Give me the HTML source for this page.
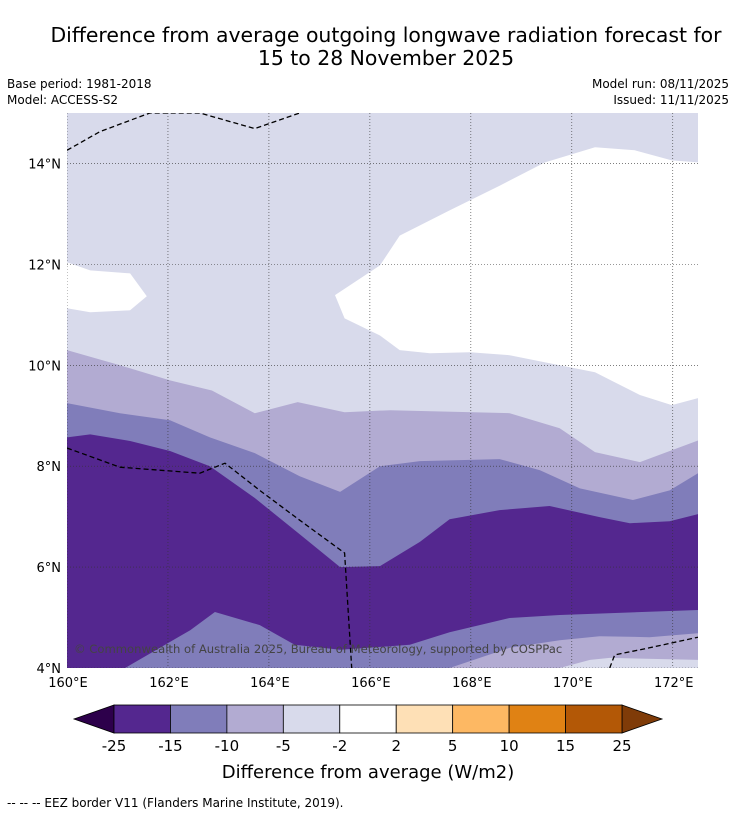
<!DOCTYPE html>
<html><head><meta charset="utf-8">
<style>
body{margin:0;background:#fff;font-family:"Liberation Sans","DejaVu Sans",sans-serif;}
svg text{font-family:"DejaVu Sans","Liberation Sans",sans-serif;}
</style></head>
<body>
<svg id="chart" width="736" height="816" viewBox="0 0 736 816" xmlns="http://www.w3.org/2000/svg">
<text x="386" y="42" font-size="20.4" text-anchor="middle">Difference from average outgoing longwave radiation forecast for</text>
<text x="386" y="65" font-size="20.4" text-anchor="middle">15 to 28 November 2025</text>
<text x="7" y="88" font-size="12">Base period: 1981-2018</text>
<text x="7" y="104" font-size="12">Model: ACCESS-S2</text>
<text x="729" y="88" font-size="12" text-anchor="end">Model run: 08/11/2025</text>
<text x="729" y="104" font-size="12" text-anchor="end">Issued: 11/11/2025</text>
<defs><clipPath id="plotclip"><rect x="67" y="113" width="631" height="555"/></clipPath></defs>
<g id="plot" clip-path="url(#plotclip)"></g>
<g id="axes"></g>
<g id="cbar"></g>
<text x="368" y="778" font-size="18" text-anchor="middle">Difference from average (W/m2)</text>
<text x="7" y="807" font-size="12">--  --  -- EEZ border V11 (Flanders Marine Institute, 2019).</text>
</svg>
<script>
// Axis ranges
const lonMin=160, lonMax=172.5, latMin=4, latMax=15;
const lonTicks=[160,162,164,166,168,170,172];
const latTicks=[4,6,8,10,12,14];
// Contour boundaries (lon, lat)
const whiteTop=[[172.5,14.02],[171.98,14.06],[171.25,14.26],[170.46,14.32],[169.47,14.02],[168.57,13.56],[167.58,13.07],[166.59,12.57],[166.2,11.98],[165.31,11.39],[165.5,10.93],[166.2,10.59],[166.59,10.3],[167.19,10.24],[167.98,10.26],[168.77,10.2],[169.56,10.04],[170.46,9.86],[171.35,9.41],[171.98,9.21],[172.5,9.35]];
const whiteLeft=[[160,12.04],[160.46,11.88],[161.25,11.82],[161.58,11.37],[161.25,11.09],[160.46,11.05],[160,11.13]];
const line5=[[160,10.3],[161.05,10],[162.04,9.7],[162.87,9.5],[163.72,9.05],[164.57,9.27],[165.5,9.07],[166.4,9.11],[168.77,9.05],[169.76,8.75],[170.46,8.28],[171.35,8.08],[172.5,8.51]];
const line10=[[160,9.25],[161.05,9.05],[162.04,8.91],[162.83,8.57],[163.72,8.26],[164.61,7.8],[165.41,7.49],[166.2,8],[166.99,8.1],[168.57,8.14],[169.37,7.92],[170.16,7.56],[171.21,7.33],[171.94,7.52],[172.5,7.86]];
const line15=[[160,8.57],[160.46,8.63],[161.25,8.5],[162.04,8.3],[162.83,8],[163.72,7.37],[164.61,6.65],[165.41,6],[166.2,6.02],[166.99,6.5],[167.58,6.95],[168.57,7.13],[169.56,7.21],[170.55,6.99],[171.15,6.87],[171.94,6.91],[172.5,7.05]];
const lowerDark=[[161.15,4],[162.44,4.75],[162.93,5.11],[163.82,4.85],[164.51,4.46],[165.41,4.36],[166.79,4.46],[167.58,4.71],[168.77,4.99],[169.76,5.05],[172.5,5.15]];
const lower10=[[167.58,4],[168.77,4.4],[169.76,4.55],[170.55,4.63],[171.54,4.61],[172.5,4.69]];
const lowerWhite=[[169.76,4],[170.36,4.16],[170.75,4.2],[172.5,4.16]];
const eezTop=[[160,14.26],[160.65,14.63],[161.64,15],[162.63,15],[163.72,14.69],[164.61,15]];
const eezLeft=[[160,8.36],[161.05,7.98],[162.63,7.86],[163.13,8.06],[163.82,7.52],[164.61,6.93],[165.5,6.28],[165.64,4]];
const eezRight=[[170.75,4],[170.85,4.26],[171.54,4.4],[172.5,4.61]];
// Colorbar
const cbBounds=[-25,-15,-10,-5,-2,2,5,10,15,25];
const cbColors=["#54278f","#807dba","#b2abd2","#d8daeb","#ffffff","#fee0b6","#fdb863","#e08214","#b35806"];
const cbLow="#2d004b", cbHigh="#7f3b08";

const X0=67,X1=698,Y0=668,Y1=113;
const sx=l=>X0+(l-lonMin)/(lonMax-lonMin)*(X1-X0);
const sy=l=>Y0-(l-latMin)/(latMax-latMin)*(Y0-Y1);
const NS="http://www.w3.org/2000/svg";
function mk(tag,attrs,parent){const e=document.createElementNS(NS,tag);for(const k in attrs)e.setAttribute(k,attrs[k]);parent.appendChild(e);return e;}
const pts=a=>a.map(p=>sx(p[0]).toFixed(1)+","+sy(p[1]).toFixed(1)).join(" ");
const plot=document.getElementById('plot');
let r=mk('rect',{x:X0,y:Y1,width:X1-X0,height:Y0-Y1,fill:cbColors[3]},plot);


function below(line,color,name){
  const a=line.concat([[lonMax,latMin],[lonMin,latMin]]);
  const p=mk('polygon',{points:pts(a),fill:color},plot);
  
  
}
function shape(a,color,name){
  const p=mk('polygon',{points:pts(a),fill:color},plot);
  
  
}
shape(whiteTop.concat([[lonMax,15.5]]),"#ffffff","white-region-north");
shape(whiteLeft,"#ffffff","white-region-west");
below(line5,cbColors[2],'band-minus10-minus5');
below(line10,cbColors[1],'band-minus15-minus10');
below(line15,cbColors[0],'band-below-minus15');
below(lowerDark,cbColors[1],'band-minus15-minus10-south');
below(lower10,cbColors[2],'band-minus10-minus5-south');
below(lowerWhite,cbColors[3],'band-minus5-south');
// grid
lonTicks.forEach(l=>{const g=mk('line',{x1:sx(l),x2:sx(l),y1:Y1,y2:Y0,stroke:"#333","stroke-width":0.6,"stroke-dasharray":"1,2"},plot);

});
latTicks.forEach(l=>{const g=mk('line',{x1:X0,x2:X1,y1:sy(l),y2:sy(l),stroke:"#333","stroke-width":0.6,"stroke-dasharray":"1,2"},plot);

});
[eezTop,eezLeft,eezRight].forEach(a=>{const e=mk('polyline',{points:pts(a),fill:"none",stroke:"#000","stroke-width":1.3,"stroke-dasharray":"5,3"},plot);

});
let c=mk('text',{x:74,y:653,"font-size":11.6,fill:"#444"},plot);c.textContent="© Commonwealth of Australia 2025, Bureau of Meteorology, supported by COSPPac";


// axes labels
const axes=document.getElementById('axes');
lonTicks.forEach(l=>{const t=mk('text',{x:sx(l)+1,y:687,"font-size":13,"text-anchor":"middle"},axes);t.textContent=l+"°E";

});
latTicks.forEach(l=>{const t=mk('text',{x:61,y:sy(l)+5,"font-size":13,"text-anchor":"end"},axes);t.textContent=l+"°N";

});
// colorbar
const cb=document.getElementById('cbar');
const cbx0=114,cbx1=622,cby=705,cbh=28,w=(cbx1-cbx0)/cbColors.length;
let tl=mk('polygon',{points:`${cbx0},${cby} ${74},${cby+cbh/2} ${cbx0},${cby+cbh}`,fill:cbLow,stroke:"#000","stroke-width":0.8},cb);


let th=mk('polygon',{points:`${cbx1},${cby} ${662},${cby+cbh/2} ${cbx1},${cby+cbh}`,fill:cbHigh,stroke:"#000","stroke-width":0.8},cb);


cbColors.forEach((col,i)=>{const b=mk('rect',{x:cbx0+i*w,y:cby,width:w,height:cbh,fill:col,stroke:"#000","stroke-width":0.8},cb);

});
cbBounds.forEach((v,i)=>{const t=mk('text',{x:cbx0+i*w,y:751,"font-size":15,"text-anchor":"middle"},cb);t.textContent=v;

});
</script>
</body></html>
